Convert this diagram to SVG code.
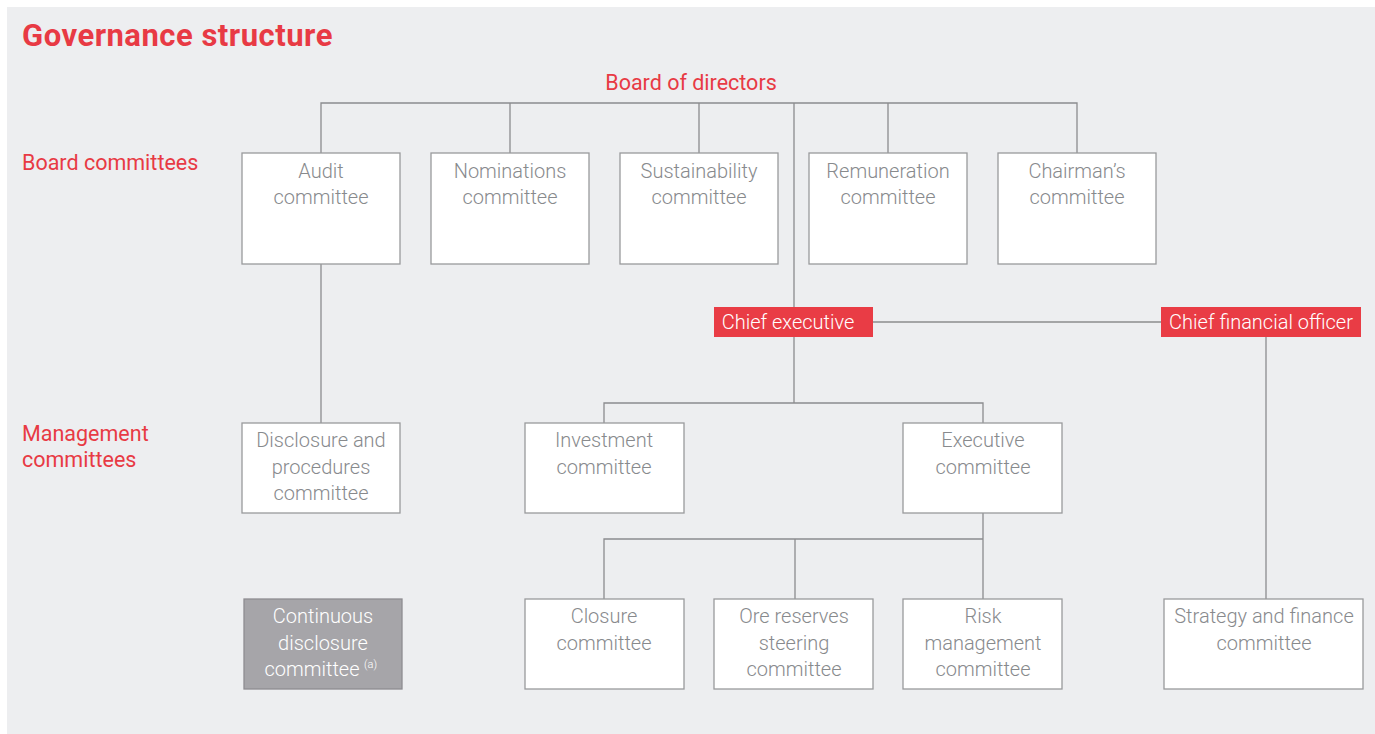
<svg xmlns="http://www.w3.org/2000/svg" width="1375" height="734" viewBox="0 0 1375 734">
<style>
.t{font-family:Roboto,"Liberation Sans",sans-serif;font-weight:300;font-size:20px;fill:#888a8d;text-anchor:middle}
.r{font-family:Roboto,"Liberation Sans",sans-serif;fill:#e83a44}
.box{fill:#ffffff;stroke:#999a9c;stroke-width:1.3}
.red{fill:#e93c45}
.w{font-family:Roboto,"Liberation Sans",sans-serif;font-weight:300;font-size:20px;fill:#ffffff;text-anchor:middle}
.c{fill:none;stroke:#8b8c8e;stroke-width:1.3}
</style>
<rect x="7" y="7" width="1368" height="727" fill="#edeef0"/>
<text class="r" x="22" y="46" font-size="31" font-weight="700" letter-spacing="0.5">Governance structure</text>
<text class="r" x="691" y="90" font-size="21.5" text-anchor="middle">Board of directors</text>
<text class="r" x="22" y="170" font-size="21.5">Board committees</text>
<text class="r" x="22" y="441" font-size="21.5">Management</text>
<text class="r" x="22" y="467" font-size="21.5">committees</text>

<g id="connectors">
<path class="c" d="M321 153V103H1077V153M510 103V153M699 103V153M888 103V153M794 103V308"/>
<path class="c" d="M873 322H1161"/>
<path class="c" d="M794 337V403M604 423V403H983V423"/>
<path class="c" d="M1266 337V599"/>
<path class="c" d="M321 264V423"/>
<path class="c" d="M983 513V539H604V599M795 539V599M983 539V599"/>
</g>

<g id="audit"><rect class="box" x="242" y="153" width="158" height="111"/><text class="t" x="321" y="178">Audit</text><text class="t" x="321" y="204">committee</text></g>
<g id="nominations"><rect class="box" x="431" y="153" width="158" height="111"/><text class="t" x="510" y="178">Nominations</text><text class="t" x="510" y="204">committee</text></g>
<g id="sustainability"><rect class="box" x="620" y="153" width="158" height="111"/><text class="t" x="699" y="178">Sustainability</text><text class="t" x="699" y="204">committee</text></g>
<g id="remuneration"><rect class="box" x="809" y="153" width="158" height="111"/><text class="t" x="888" y="178">Remuneration</text><text class="t" x="888" y="204">committee</text></g>
<g id="chairmans"><rect class="box" x="998" y="153" width="158" height="111"/><text class="t" x="1077" y="178">Chairman’s</text><text class="t" x="1077" y="204">committee</text></g>

<g id="ceo"><rect class="red" x="714" y="307" width="159" height="30"/><text class="w" x="788" y="329">Chief executive</text></g>
<g id="cfo"><rect class="red" x="1161" y="307" width="200" height="30"/><text class="w" x="1261" y="329">Chief financial officer</text></g>

<g id="disclosure"><rect class="box" x="242" y="423" width="158" height="90"/><text class="t" x="321" y="447">Disclosure and</text><text class="t" x="321" y="474">procedures</text><text class="t" x="321" y="500">committee</text></g>
<g id="investment"><rect class="box" x="525" y="423" width="159" height="90"/><text class="t" x="604" y="447">Investment</text><text class="t" x="604" y="474">committee</text></g>
<g id="executive"><rect class="box" x="903" y="423" width="159" height="90"/><text class="t" x="983" y="447">Executive</text><text class="t" x="983" y="474">committee</text></g>

<g id="continuous"><rect x="244" y="599" width="158" height="90" fill="#a6a5a9" stroke="#8e8d91" stroke-width="1.3"/><text class="w" x="323" y="623">Continuous</text><text class="w" x="323" y="650">disclosure</text><text class="w" x="312" y="676">committee</text><text x="364" y="668" font-family="Roboto,'Liberation Sans',sans-serif" font-weight="300" font-size="11" fill="#ffffff">(a)</text></g>
<g id="closure"><rect class="box" x="525" y="599" width="159" height="90"/><text class="t" x="604" y="623">Closure</text><text class="t" x="604" y="650">committee</text></g>
<g id="ore"><rect class="box" x="714" y="599" width="159" height="90"/><text class="t" x="794" y="623">Ore reserves</text><text class="t" x="794" y="650">steering</text><text class="t" x="794" y="676">committee</text></g>
<g id="risk"><rect class="box" x="903" y="599" width="159" height="90"/><text class="t" x="983" y="623">Risk</text><text class="t" x="983" y="650">management</text><text class="t" x="983" y="676">committee</text></g>
<g id="strategy"><rect class="box" x="1164" y="599" width="199" height="90"/><text class="t" x="1264" y="623">Strategy and finance</text><text class="t" x="1264" y="650">committee</text></g>
</svg>
